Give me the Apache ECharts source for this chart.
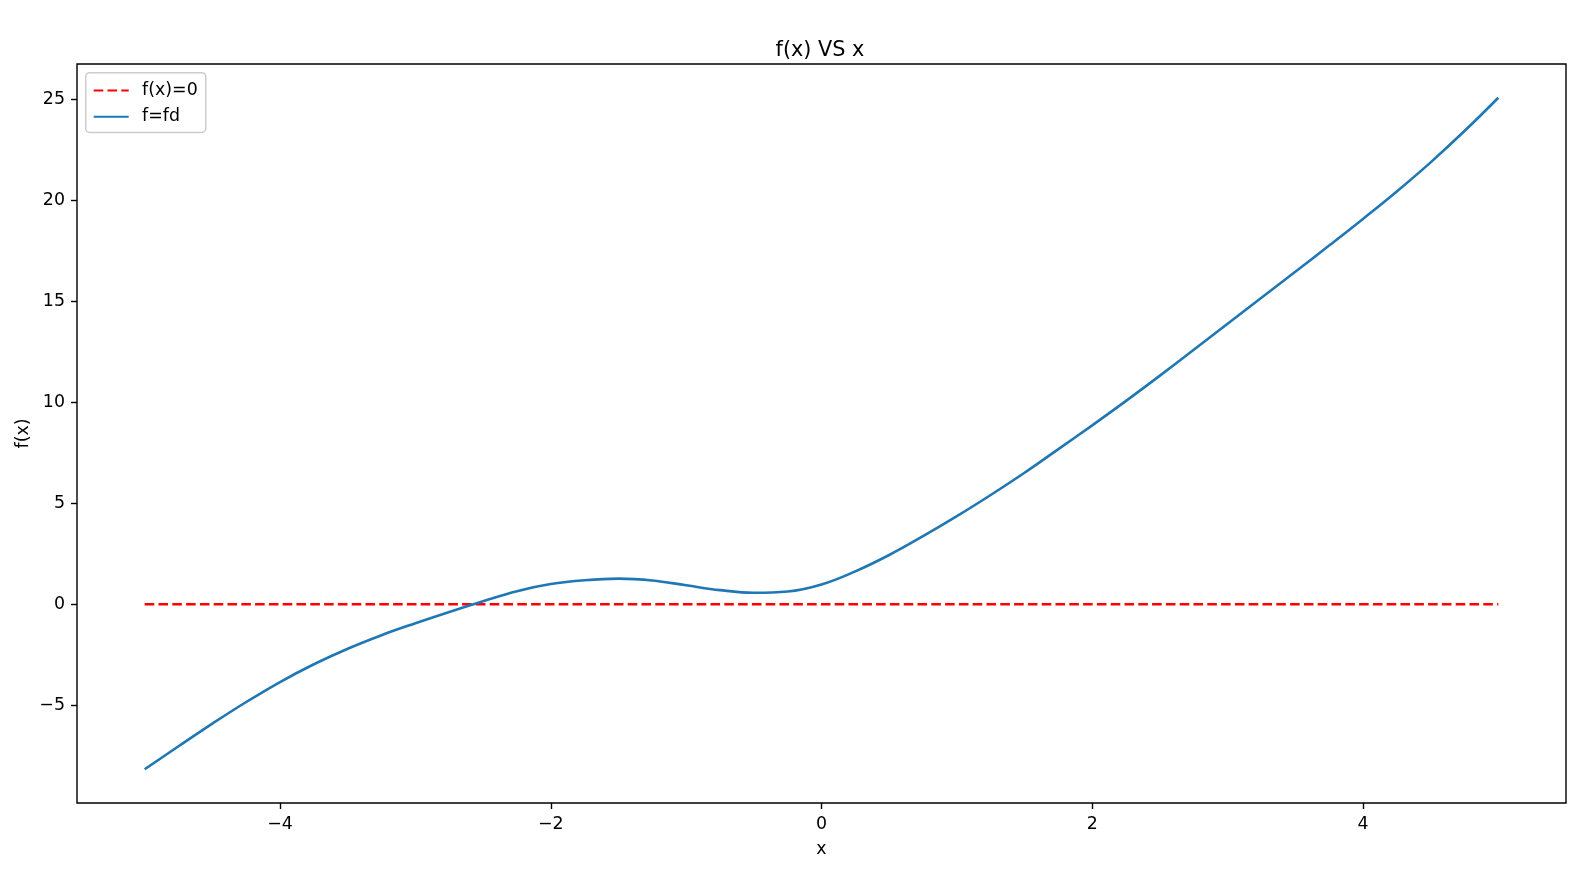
<!DOCTYPE html>
<html><head><meta charset="utf-8">
<script src="https://cdn.jsdelivr.net/npm/echarts@6/dist/echarts.min.js"></script>
<style>html,body{margin:0;padding:0;background:#fff}#c{width:1596px;height:872px}</style>
</head><body><div id="c"></div><script>
// values
const xValues = [-5.00,-4.75,-4.50,-4.25,-4.00,-3.75,-3.50,-3.25,-3.00,-2.75,-2.50,-2.25,-2.00,-1.75,-1.50,-1.25,-1.00,-0.75,-0.50,-0.25,0.00,0.25,0.50,0.75,1.00,1.25,1.50,1.75,2.00,2.25,2.50,2.75,3.00,3.25,3.50,3.75,4.00,4.25,4.50,4.75,5.00];
const fdValues = [-8.17,-7.03,-5.91,-4.84,-3.85,-2.97,-2.20,-1.53,-0.94,-0.38,0.15,0.65,1.00,1.19,1.27,1.18,0.94,0.70,0.57,0.63,0.98,1.63,2.44,3.37,4.36,5.41,6.51,7.68,8.86,10.07,11.32,12.60,13.89,15.18,16.46,17.76,19.08,20.44,21.88,23.43,25.08];
const zeroX = [-5, 5];
const zeroY = [0, 0];
const xTicks = [-4, -2, 0, 2, 4];
const yTicks = [-5, 0, 5, 10, 15, 20, 25];
const seriesNames = ['f(x)=0', 'f=fd'];
const titleText = 'f(x) VS x';
const xName = 'x';
const yName = 'f(x)';

const FONT = 'DejaVu Sans';
const fmt = v => String(v).replace('-', '\u2212');
const chart = echarts.init(document.getElementById('c'), null, {renderer: 'canvas'});
chart.setOption({
  animation: false,
  backgroundColor: '#fff',
  title: {
    text: titleText, left: 815, top: 35, textAlign: 'center',
    textStyle: {fontFamily: FONT, fontSize: 20.8, fontWeight: 'normal', color: '#000'}
  },
  legend: {
    orient: 'vertical', left: 85.7, top: 72.7,
    padding: [9.3, 8, 7.3, 7],
    itemWidth: 35, itemHeight: 17.4, itemGap: 9.2,
    borderColor: '#cccccc', borderWidth: 1.5, borderRadius: 4,
    backgroundColor: 'rgba(255,255,255,0.8)',
    itemStyle: {color: 'rgba(0,0,0,0)', borderWidth: 0, opacity: 0},
    textStyle: {fontFamily: FONT, fontSize: 17.4, color: '#000', padding: [0, 0, 0, 8.4]},
    data: seriesNames
  },
  grid: {left: 77, right: 30, top: 64, bottom: 69, show: true, borderColor: '#000', borderWidth: 1.4, backgroundColor: 'transparent'},
  xAxis: {
    type: 'value', min: -5.5, max: 5.5,
    name: xName, nameLocation: 'middle', nameGap: 38, nameMoveOverlap: false,
    nameTextStyle: {fontFamily: FONT, fontSize: 17.4, color: '#000'},
    axisLine: {show: false, onZero: false},
    axisTick: {show: true, length: 6, lineStyle: {color: '#000', width: 1.4}, customValues: xTicks},
    axisLabel: {customValues: xTicks, margin: 13, formatter: fmt, fontFamily: FONT, fontSize: 17.4, color: '#000'},
    splitLine: {show: false}
  },
  yAxis: {
    type: 'value', min: -9.84, max: 26.75,
    name: yName, nameLocation: 'middle', nameGap: 45, nameRotate: 90, nameMoveOverlap: false,
    nameTextStyle: {fontFamily: FONT, fontSize: 17.4, color: '#000'},
    axisLine: {show: false, onZero: false},
    axisTick: {show: true, length: 6, lineStyle: {color: '#000', width: 1.4}, customValues: yTicks},
    axisLabel: {customValues: yTicks, margin: 12, formatter: fmt, fontFamily: FONT, fontSize: 17.4, color: '#000'},
    splitLine: {show: false}
  },
  series: [
    {
      name: seriesNames[0], type: 'line', symbol: 'none',
      data: zeroX.map((x, i) => [x, zeroY[i]]),
      lineStyle: {color: '#ff0000', width: 2.6, type: [9.6, 4.2], cap: 'butt'},
      itemStyle: {color: '#ff0000'}, z: 2
    },
    {
      name: seriesNames[1], type: 'line', symbol: 'none', smooth: 0.4,
      data: xValues.map((x, i) => [x, fdValues[i]]),
      lineStyle: {color: '#1f77b4', width: 2.6},
      itemStyle: {color: '#1f77b4'}, z: 3
    }
  ]
});
</script></body></html>
